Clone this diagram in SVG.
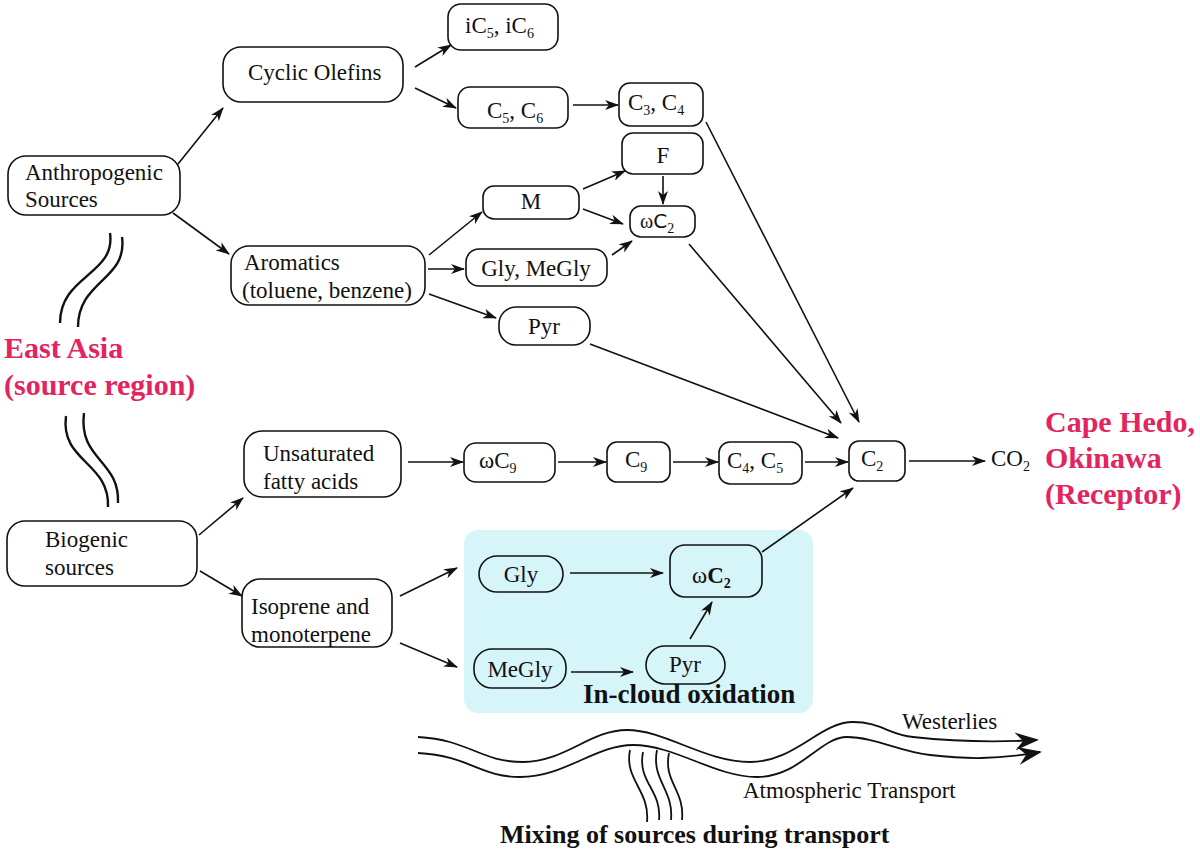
<svg xmlns="http://www.w3.org/2000/svg" width="1200" height="861" viewBox="0 0 1200 861" font-family="'Liberation Serif', 'Times New Roman', serif">
<defs>
<style>
.n{fill:#fff;stroke:#111;stroke-width:1.6}
.nc{fill:none;stroke:#111;stroke-width:1.6}
.t{font-size:23px;fill:#111}
.s{font-size:14px}
.red{font-size:30px;font-weight:bold;fill:#e2245f}
.b{font-weight:bold;fill:#111}
.e{fill:none;stroke:#111;stroke-width:1.6;marker-end:url(#ah)}
.w{fill:none;stroke:#111;stroke-width:2.4}
.wv{fill:none;stroke:#111;stroke-width:1.8}
</style>
<marker id="ah" viewBox="0 0 14 10" refX="13" refY="5" markerWidth="14" markerHeight="10" orient="auto" markerUnits="userSpaceOnUse">
<path d="M0,0 L14,5 L0,10 L4,5 z" fill="#111"/>
</marker>
<marker id="ahw" viewBox="0 0 24 18" refX="22" refY="9" markerWidth="24" markerHeight="18" orient="auto" markerUnits="userSpaceOnUse">
<path d="M0,0 L24,9 L0,18 L8,9 z" fill="#111"/>
</marker>
</defs>
<rect width="1200" height="861" fill="#fff"/>

<rect id="cloud" x="464" y="530" width="349" height="183" rx="14" fill="#d6f5f8"/>

<g id="eastasia">
<text class="red" x="4" y="358">East Asia</text>
<text class="red" x="4" y="395">(source region)</text>
</g>
<g id="receptor">
<text class="red" x="1045" y="432">Cape Hedo,</text>
<text class="red" x="1045" y="468">Okinawa</text>
<text class="red" x="1045" y="504">(Receptor)</text>
</g>

<g id="leftwaves">
<path class="w" d="M110,233 C116,275 60,275 60,323"/>
<path class="w" d="M122,237 C128,280 78,280 78,327"/>
<path class="w" d="M66,416 C60,462 110,462 108,507"/>
<path class="w" d="M84,413 C78,460 120,460 118,503"/>
</g>

<g id="nodes">
<g id="anthro"><rect class="n" x="8" y="156" width="172" height="59" rx="18"/>
<text class="t" x="25" y="180">Anthropogenic</text><text class="t" x="25" y="207">Sources</text></g>
<g id="cyclic"><rect class="n" x="223" y="47" width="180" height="55" rx="18"/>
<text class="t" x="248" y="80">Cyclic Olefins</text></g>
<g id="ic5"><rect class="n" x="448" y="4" width="110" height="46" rx="13"/>
<text class="t" x="465" y="33">iC<tspan class="s" dy="5">5</tspan><tspan dy="-5">, iC</tspan><tspan class="s" dy="5">6</tspan></text></g>
<g id="c5c6"><rect class="n" x="458" y="87" width="110" height="41" rx="12"/>
<text class="t" x="487" y="118">C<tspan class="s" dy="5">5</tspan><tspan dy="-5">, C</tspan><tspan class="s" dy="5">6</tspan></text></g>
<g id="c3c4"><rect class="n" x="619" y="83" width="84" height="43" rx="11"/>
<text class="t" x="628" y="110">C<tspan class="s" dy="5">3</tspan><tspan dy="-5">, C</tspan><tspan class="s" dy="5">4</tspan></text></g>
<g id="f"><rect class="n" x="622" y="133" width="81" height="41" rx="11"/>
<text class="t" x="663" y="163" text-anchor="middle">F</text></g>
<g id="m"><rect class="n" x="483" y="186" width="96" height="33" rx="11"/>
<text class="t" x="531" y="209" text-anchor="middle">M</text></g>
<g id="wc2a"><rect class="n" x="630" y="206" width="65" height="31" rx="11"/>
<text class="t" x="640" y="228" style="font-size:20px">ω<tspan font-family="DejaVu Sans, sans-serif">C</tspan><tspan class="s" dy="5">2</tspan></text></g>
<g id="arom"><rect class="n" x="231" y="246" width="194" height="59" rx="18"/>
<text class="t" x="244" y="270">Aromatics</text><text class="t" x="242" y="298">(toluene, benzene)</text></g>
<g id="glymegly"><rect class="n" x="466" y="249" width="141" height="37" rx="13"/>
<text class="t" x="536" y="276" text-anchor="middle">Gly, MeGly</text></g>
<g id="pyra"><rect class="n" x="499" y="307" width="91" height="38" rx="17"/>
<text class="t" x="544" y="334" text-anchor="middle">Pyr</text></g>
<g id="unsat"><rect class="n" x="244" y="431" width="157" height="66" rx="18"/>
<text class="t" x="263" y="461">Unsaturated</text><text class="t" x="263" y="489">fatty acids</text></g>
<g id="wc9"><rect class="n" x="464" y="443" width="91" height="39" rx="12"/>
<text class="t" x="479" y="468">ωC<tspan class="s" dy="5">9</tspan></text></g>
<g id="c9"><rect class="n" x="607" y="442" width="63" height="40" rx="10"/>
<text class="t" x="625" y="467">C<tspan class="s" dy="5">9</tspan></text></g>
<g id="c4c5"><rect class="n" x="719" y="442" width="83" height="42" rx="11"/>
<text class="t" x="727" y="468">C<tspan class="s" dy="5">4</tspan><tspan dy="-5">, C</tspan><tspan class="s" dy="5">5</tspan></text></g>
<g id="c2"><rect class="n" x="849" y="441" width="56" height="40" rx="10"/>
<text class="t" x="861" y="466">C<tspan class="s" dy="5">2</tspan></text></g>
<g id="co2"><text class="t" x="991" y="466">CO<tspan class="s" dy="5">2</tspan></text></g>
<g id="bio"><rect class="n" x="7" y="521" width="190" height="65" rx="18"/>
<text class="t" x="45" y="547">Biogenic</text><text class="t" x="45" y="575">sources</text></g>
<g id="iso"><rect class="n" x="242" y="579" width="150" height="68" rx="18"/>
<text class="t" x="251" y="614">Isoprene and</text><text class="t" x="251" y="642">monoterpene</text></g>
<g id="glyc"><rect class="nc" x="479" y="556" width="84" height="36" rx="18"/>
<text class="t" x="521" y="582" text-anchor="middle">Gly</text></g>
<g id="wc2c"><rect class="nc" x="670" y="545" width="92" height="52" rx="15"/>
<text class="t" x="692" y="583">ω<tspan font-weight="bold">C</tspan><tspan class="s" font-weight="bold" dy="5">2</tspan></text></g>
<g id="megly"><rect class="nc" x="474" y="649" width="92" height="39" rx="18"/>
<text class="t" x="520" y="677" text-anchor="middle">MeGly</text></g>
<g id="pyrc"><rect class="nc" x="646" y="646" width="79" height="38" rx="19"/>
<text class="t" x="685" y="672" text-anchor="middle">Pyr</text></g>
<text class="b" x="583" y="703" font-size="27">In-cloud oxidation</text>
</g>

<g id="edges">
<path class="e" d="M178,164 L223,108"/>
<path class="e" d="M173,213 L229,254"/>
<path class="e" d="M415,67 L451,45"/>
<path class="e" d="M415,88 L456,108"/>
<path class="e" d="M573,105 L618,105"/>
<path class="e" d="M706,122 L859,422"/>
<path class="e" d="M583,189 L625,171"/>
<path class="e" d="M663,176 L663,204"/>
<path class="e" d="M583,209 L623,224"/>
<path class="e" d="M612,255 L632,241"/>
<path class="e" d="M689,244 L841,423"/>
<path class="e" d="M429,255 L482,212"/>
<path class="e" d="M428,269 L464,269"/>
<path class="e" d="M429,294 L496,318"/>
<path class="e" d="M590,344 L838,438"/>
<path class="e" d="M408,462 L463,462"/>
<path class="e" d="M558,462 L606,462"/>
<path class="e" d="M673,462 L718,462"/>
<path class="e" d="M805,462 L848,462"/>
<path class="e" d="M909,461 L985,461"/>
<path class="e" d="M199,535 L243,498"/>
<path class="e" d="M200,571 L242,596"/>
<path class="e" d="M400,596 L457,568"/>
<path class="e" d="M400,643 L457,667"/>
<path class="e" d="M570,573 L663,573"/>
<path class="e" d="M571,672 L633,672"/>
<path class="e" d="M690,639 L712,602"/>
<path class="e" d="M762,552 L853,488"/>
</g>

<g id="westerlies">
<path class="wv" marker-end="url(#ahw)" d="M418,737 C470,740 480,762 523,762 C565,762 590,730 627,730 C665,730 705,762 750,762 C795,762 820,722 853,722 C880,722 890,735 913,737 C950,741 990,743 1037,740"/>
<path class="wv" marker-end="url(#ahw)" d="M418,753 C470,756 480,777 520,777 C565,777 595,745 633,745 C675,745 715,777 757,777 C800,777 820,737 847,737 C875,737 900,752 930,755 C965,759 995,760 1040,752"/>
<path class="wv" d="M630,750 C624,780 650,790 647,822"/>
<path class="wv" d="M643,752 C637,782 662,790 659,820"/>
<path class="wv" d="M657,750 C651,780 674,790 671,820"/>
<path class="wv" d="M669,753 C663,782 685,790 682,820"/>
<text class="t" x="902" y="729">Westerlies</text>
<text class="t" x="743" y="798">Atmospheric Transport</text>
<text class="b" x="500" y="843" font-size="26">Mixing of sources during transport</text>
</g>
</svg>
